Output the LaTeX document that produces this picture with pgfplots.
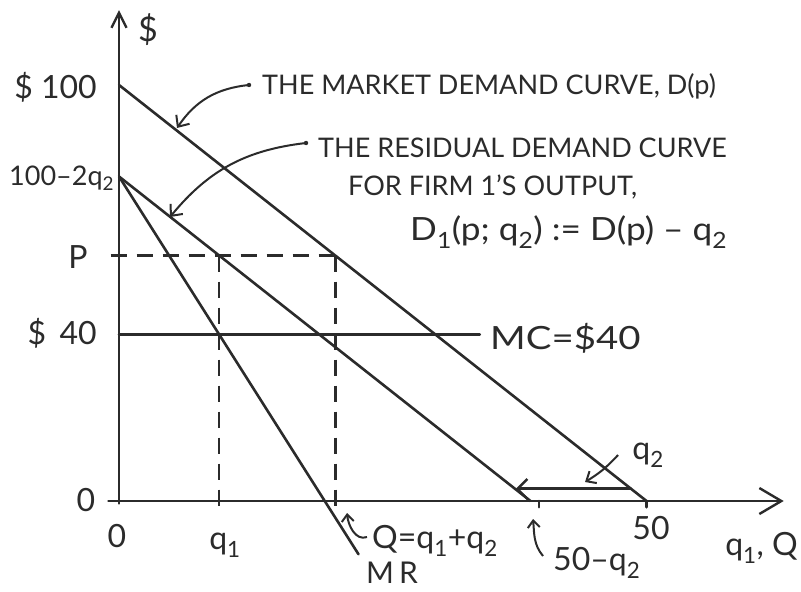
\documentclass[border=0pt]{standalone}
\usepackage{pgfplots}
\pgfplotsset{compat=1.18}
\usepackage{fontspec}
\setmainfont{Lato}
\usetikzlibrary{arrows.meta}
\definecolor{ink}{HTML}{2B2B2B}
\newcommand{\hw}{\fontsize{27}{30}\selectfont}
\newcommand{\lbl}{\fontsize{32}{34}\selectfont}
\newcommand{\sub}[1]{\textsubscript{#1}}

% Residual demand example: D(p) = 50 - p/2, rival output q2 = 11, MC = 40
\begin{document}
\begin{tikzpicture}[font=\hw, color=ink]
\begin{axis}[
  x=10.55pt, y=4.16pt,
  xmin=-11.28, xmax=64.64, ymin=-21.63, ymax=120.43,
  hide axis, clip=false,
  curve/.style={ink, mark=none, line width=2.6pt, line cap=round},
  guide/.style={ink, mark=none, line width=2.4pt, dash pattern=on 16pt off 10pt},
]
% axes
\addplot[curve, -{Straight Barb[length=22pt,width=26pt,line width=2.4pt]}] coordinates {(-1,0) (63,0)};
\addplot[curve, -{Straight Barb[length=15pt,width=15pt,line width=2.4pt]}] coordinates {(0,-0.6) (0,118)};
% market demand D(p)
\addplot[curve] coordinates {(0,100) (50,0)};
% residual demand for firm 1
\addplot[curve] coordinates {(0,78) (39,0)};
% marginal revenue of the residual demand
\addplot[curve] coordinates {(0,78) (22.7,-12.8)};
% marginal cost
\addplot[curve] coordinates {(0,40) (34.2,40)};
% price and quantities
\addplot[guide] coordinates {(-0.8,59) (20.5,59)};
\addplot[guide] coordinates {(9.5,59) (9.5,-1.8)};
\addplot[guide] coordinates {(20.5,59) (20.5,-1.8)};
% ticks at 50 - q2 and 50
\addplot[curve] coordinates {(39.8,0) (39.8,-1.5)};
\addplot[curve] coordinates {(50,0) (50,-1.5)};
% q2 gap between the two demand curves
\addplot[curve, line width=3pt, -{Straight Barb[length=10pt,width=20pt,line width=2.4pt]}] coordinates {(48.5,2.9) (37.6,2.9)};
\coordinate (TL) at (axis cs:-11.28,120.43);
\path (axis cs:-11.28,-21.63) rectangle (axis cs:64.64,120.43);
\end{axis}

\begin{scope}[shift={(TL)}, x=1pt, y=-1pt, every node/.style={inner sep=0pt, text=ink}]
% vertical axis labels
\node[font=\fontsize{34}{36}\selectfont] at (148,30) {\$};
\node[anchor=east, font=\lbl] at (97,87) {\$ 100};
\node[anchor=west] at (9,178) {100–2q\sub{2}};
\node[font=\lbl] at (78,257) {P};
\node[anchor=east, font=\lbl] at (97,333) {\$\, 40};
\node[font=\lbl] at (86,500) {0};
% horizontal axis labels
\node[font=\lbl] at (117,536) {0};
\node[font=\lbl] at (225,545) {q\sub{1}};
\node[font=\lbl] at (651,528) {50};
\node[anchor=west, font=\lbl] at (725,548) {q\sub{1}, Q};
\node[anchor=west, font=\lbl] at (372,541) {Q=q\sub{1}+q\sub{2}};
\draw[line width=2pt, -{Straight Barb[length=7pt,width=12pt]}] (367,537) to[out=200,in=-85] (347,513);
\node[anchor=west, font=\lbl] at (553,563) {50–q\sub{2}};
\draw[line width=2pt, -{Straight Barb[length=7pt,width=12pt]}] (543,556) to[out=130,in=-85] (533,519);
\node[anchor=west, font=\fontsize{30}{32}\selectfont] at (366,573) {M\,R};
\node[anchor=west, font=\lbl] at (490,338) {\scalebox{1.2}[1]{MC=\$40}};
\node[font=\lbl] at (648,455) {q\sub{2}};
\draw[line width=2pt, -{Straight Barb[length=8pt,width=14pt]}] (618,455) to[bend left=8] (585,482);
% curve annotations
\node[anchor=west] at (262,86) {THE MARKET DEMAND CURVE, D(p)};
\fill (249,85) circle (2.2pt);
\draw[line width=2pt, -{Straight Barb[length=9pt,width=16pt]}] (249,85) to[bend right=25] (177,128);
\node[anchor=west] at (318,148) {THE RESIDUAL DEMAND CURVE};
\fill (306,143) circle (2.2pt);
\draw[line width=2pt, -{Straight Barb[length=9pt,width=16pt]}] (306,143) to[bend right=22] (170,217);
\node[anchor=west] at (348,187) {FOR FIRM 1’S OUTPUT,};
\node[anchor=west, font=\fontsize{32}{34}\selectfont] at (410,232) {\scalebox{1.1}[1]{D\sub{1}(p; q\sub{2}) := D(p) – q\sub{2}}};
\end{scope}
\end{tikzpicture}
\end{document}
